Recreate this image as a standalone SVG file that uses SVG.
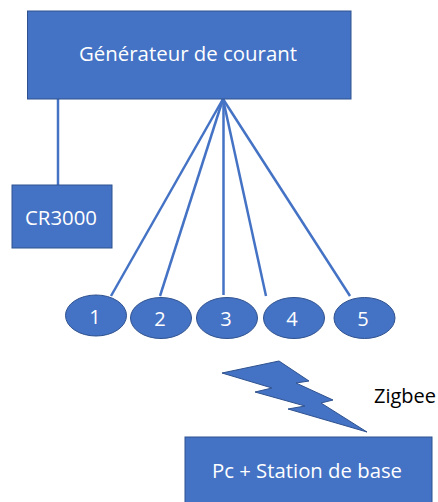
<svg xmlns="http://www.w3.org/2000/svg" width="438" height="502" viewBox="0 0 438 502">
<style>
.s{fill:#4472c4;stroke:#2f528f;stroke-width:1}
.t{font-family:"Open Sans","Noto Sans",sans-serif;font-size:20px;fill:#fff;text-anchor:middle}
.c{stroke:#4472c4;stroke-width:2.500;fill:none}
</style>
<rect width="438" height="502" fill="#fff"/>
<g id="connectors">
<line class="c" x1="58" y1="99" x2="58" y2="185"/>
<line class="c" x1="223" y1="99" x2="111" y2="296"/>
<line class="c" x1="223" y1="99" x2="160" y2="296"/>
<line class="c" x1="223.500" y1="99" x2="223.500" y2="295"/>
<line class="c" x1="223" y1="99" x2="266" y2="296"/>
<line class="c" x1="223" y1="99" x2="350" y2="296"/>
</g>
<g id="generateur"><rect class="s" x="27.500" y="11" width="323.500" height="88"/><text class="t" x="188" y="61" textLength="218" lengthAdjust="spacingAndGlyphs">Générateur de courant</text></g>
<g id="cr3000"><rect class="s" x="12" y="185" width="100" height="63"/><text class="t" x="61" y="225" textLength="72" lengthAdjust="spacingAndGlyphs">CR3000</text></g>
<g id="n1"><ellipse class="s" cx="96" cy="315.500" rx="30.500" ry="20.500"/><text class="t" x="95" y="324">1</text></g>
<g id="n2"><ellipse class="s" cx="161" cy="318" rx="30.500" ry="20.500"/><text class="t" x="160" y="326">2</text></g>
<g id="n3"><ellipse class="s" cx="227" cy="318" rx="30.500" ry="20.500"/><text class="t" x="226" y="326">3</text></g>
<g id="n4"><ellipse class="s" cx="294" cy="318" rx="30.500" ry="20.500"/><text class="t" x="292" y="326">4</text></g>
<g id="n5"><ellipse class="s" cx="364.500" cy="318" rx="30.500" ry="20.500"/><text class="t" x="363" y="326">5</text></g>
<g id="bolt"><polygon class="s" points="222,373 279,361 309,381 296,383 333,400 321,403 367,432 288,409 305,406 255,392 272,388"/></g>
<g id="zigbee"><text x="405" y="403" font-family="'Open Sans','Noto Sans',sans-serif" font-size="20" fill="#000" text-anchor="middle" textLength="62" lengthAdjust="spacingAndGlyphs">Zigbee</text></g>
<g id="station"><rect class="s" x="185" y="437" width="247" height="70"/><text class="t" x="307" y="478" textLength="190" lengthAdjust="spacingAndGlyphs">Pc + Station de base</text></g>
</svg>
